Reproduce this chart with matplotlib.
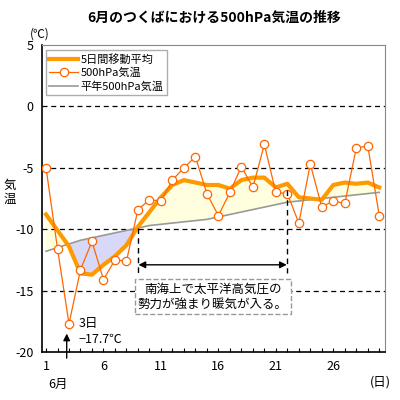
import matplotlib
matplotlib.use("Agg")
import matplotlib.pyplot as plt
import numpy as np

plt.rcParams['font.family'] = ['Noto Sans CJK JP', 'DejaVu Sans']

days = list(range(1, 31))
temp500 = [-5.0, -11.6, -17.7, -13.3, -11.0, -14.1, -12.5, -12.6, -8.4, -7.6,
           -7.7, -6.0, -5.0, -4.1, -7.1, -8.9, -7.0, -4.9, -6.6, -3.1,
           -7.0, -7.1, -9.5, -4.7, -8.2, -7.7, -7.9, -3.4, -3.2, -8.9]
ma5 = [-8.8, -10.1, -11.4, -13.6, -13.7, -12.9, -12.2, -11.3, -9.8, -8.6,
       -7.4, -6.4, -6.0, -6.2, -6.4, -6.4, -6.7, -6.0, -5.8, -5.8,
       -6.6, -6.3, -7.4, -7.5, -7.6, -6.4, -6.2, -6.3, -6.2, -6.6]
normal = [-11.8, -11.5, -11.2, -10.9, -10.7, -10.5, -10.3, -10.1, -9.9, -9.7,
          -9.6, -9.5, -9.4, -9.3, -9.2, -9.0, -8.8, -8.6, -8.4, -8.2,
          -8.0, -7.8, -7.7, -7.6, -7.5, -7.4, -7.3, -7.2, -7.1, -7.0]
yticks = [5, 0, -5, -10, -15, -20]

fig = plt.figure(figsize=(4, 4), dpi=100)
ax = fig.add_axes([0.105, 0.12, 0.8575, 0.7675])

d = np.array(days, dtype=float)
m = np.array(ma5)
n = np.array(normal)
ax.fill_between(d, m, n, where=m >= n, interpolate=True, color='#ffffe0', lw=0, zorder=1)
ax.fill_between(d, m, n, where=m < n, interpolate=True, color='#d8d8f8', lw=0, zorder=1)

for yv in [0, -5, -10, -15]:
    ax.axhline(yv, color='black', ls=(0, (4, 3)), lw=0.9, zorder=1.5)

h3, = ax.plot(d, n, color='#999999', lw=1.2, zorder=2, label='平年500hPa気温')
h2, = ax.plot(d, temp500, color='#ff6600', lw=0.9, marker='o', ms=6, mfc='white',
              mec='#ff6600', mew=0.9, zorder=4, label='500hPa気温')
h1, = ax.plot(d, m, color='#ff9900', lw=3, zorder=3, label='5日間移動平均')

ax.set_xlim(0.65, 30.5)
ax.set_ylim(-20, 5)
ax.set_yticks(yticks)
ax.set_yticklabels([str(v) for v in yticks], fontsize=9)
ax.set_xticks(days)
ax.set_xticklabels([str(v) if (v - 1) % 5 == 0 else '' for v in days], fontsize=9)
ax.tick_params(axis='x', direction='in', length=3, width=0.8, pad=6)
ax.tick_params(axis='y', length=0, pad=6)

for s in ['top', 'right']:
    ax.spines[s].set_color('#888888')
for s in ['left', 'bottom']:
    ax.spines[s].set_color('black')
    ax.spines[s].set_linewidth(1.2)

# period markers
ax.plot([9, 9], [-9.9, -13.6], color='black', ls=(0, (4, 3)), lw=1.0, zorder=5)
ax.plot([22, 22], [-6.8, -13.6], color='black', ls=(0, (4, 3)), lw=1.0, zorder=5)
ax.annotate('', xy=(9.05, -12.9), xytext=(21.95, -12.9),
            arrowprops=dict(arrowstyle='<|-|>', color='black', lw=1.0,
                            mutation_scale=10, shrinkA=0, shrinkB=0), zorder=5)
ax.text(15.5, -15.5, '南海上で太平洋高気圧の\n勢力が強まり暖気が入る。', ha='center', va='center',
        fontsize=9, linespacing=1.3,
        bbox=dict(boxstyle='square,pad=0.25', fc='white', ec='#999999', ls='--', lw=1.0),
        zorder=6)

# min annotation
ax.annotate('', xy=(2.8, -18.5), xytext=(2.8, -20.5),
            arrowprops=dict(arrowstyle='-|>', color='black', lw=1.0, mutation_scale=10,
                            shrinkA=0, shrinkB=0), annotation_clip=False, zorder=6)
ax.text(3.8, -18.3, '3日\n−17.7℃', ha='left', va='center', fontsize=9, linespacing=1.3)

leg = ax.legend(handles=[h1, h2, h3], loc='upper left', bbox_to_anchor=(0.005, 0.99),
                fontsize=8, frameon=True, fancybox=False, edgecolor='#999999',
                handlelength=2.6, borderpad=0.3, labelspacing=0.3, handletextpad=0.2,
                borderaxespad=0.2)
leg.get_frame().set_linewidth(1.0)

fig.text(0.535, 0.955, '6月のつくばにおける500hPa気温の推移', ha='center', va='center',
         fontsize=10, fontweight='bold')
fig.text(0.1, 0.915, '(℃)', ha='center', va='center', fontsize=8.5)
fig.text(0.025, 0.52, '気\n温', ha='center', va='center', fontsize=9, linespacing=1.1)
fig.text(0.145, 0.04, '6月', ha='center', va='center', fontsize=9)
fig.text(0.95, 0.045, '(日)', ha='center', va='center', fontsize=9)

fig.savefig('out.png', dpi=100)
